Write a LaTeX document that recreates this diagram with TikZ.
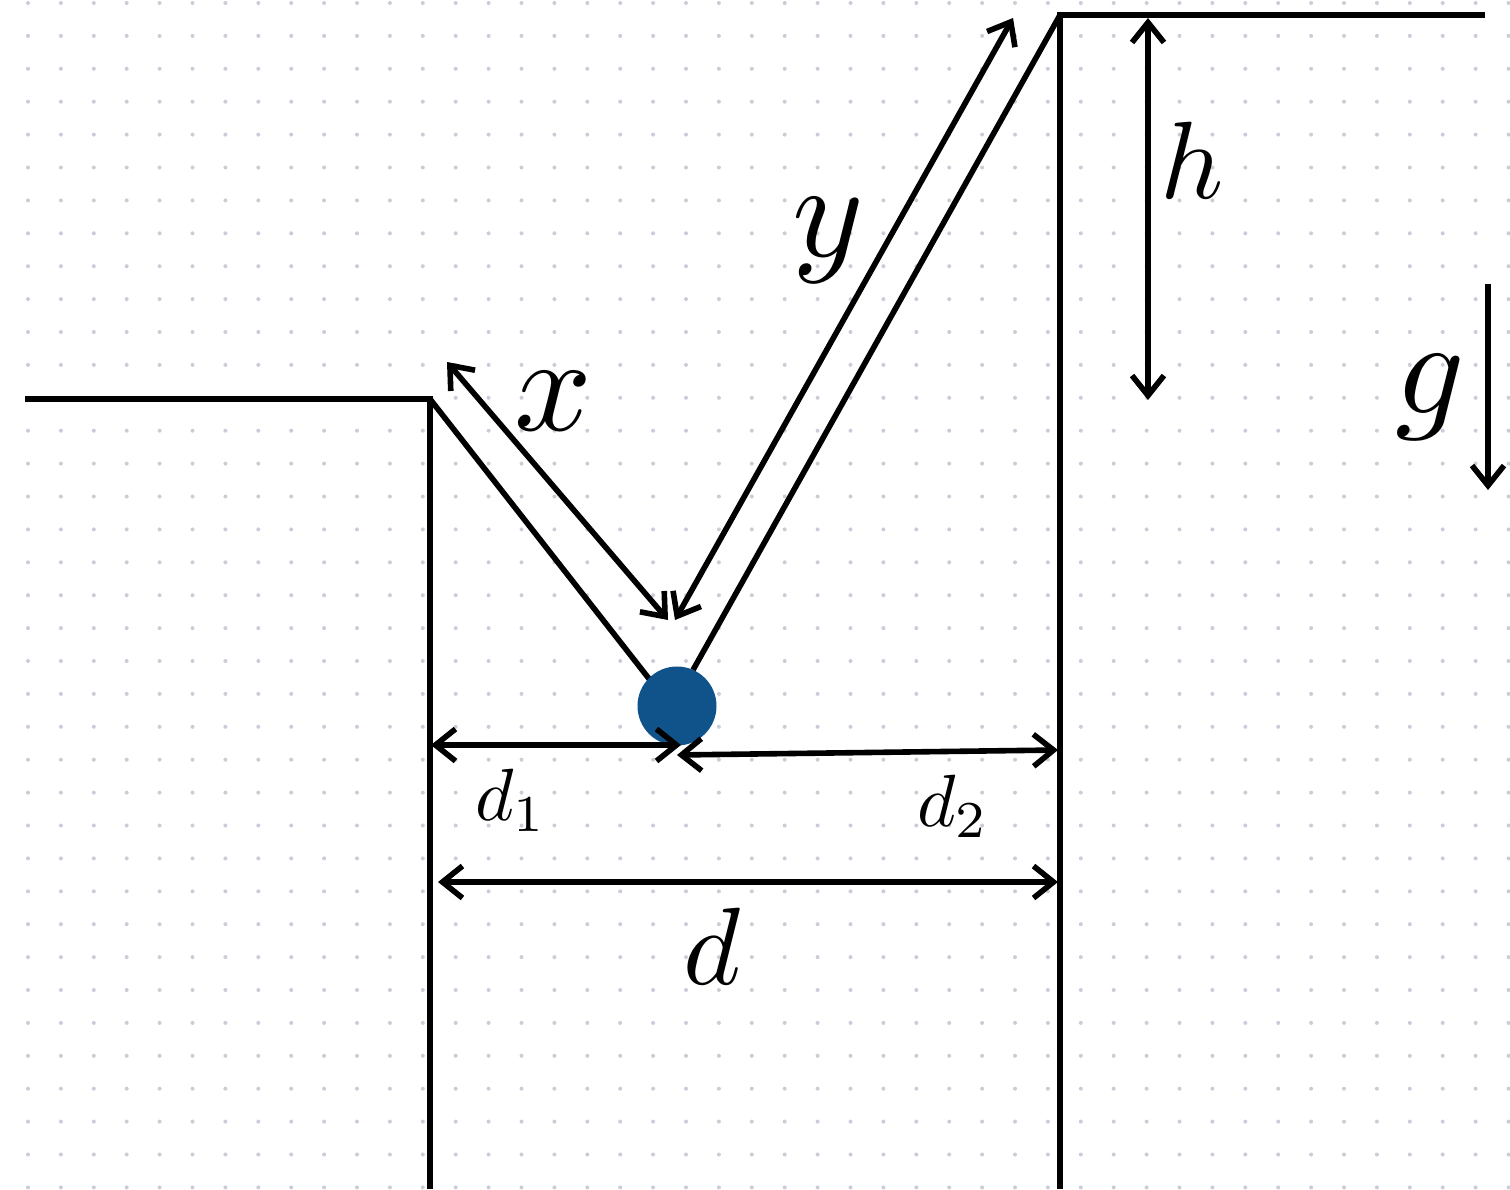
\documentclass[tikz,border=0pt]{standalone}
\usepackage{graphicx}
\usetikzlibrary{arrows.meta}
\definecolor{ballblue}{RGB}{16,82,138}
\definecolor{dotgrey}{RGB}{200,206,216}
\newcommand{\lblBig}[1]{\scalebox{6.8}{$#1$}}
\newcommand{\lblMid}[1]{\scalebox{5.5}{$#1$}}
\newcommand{\lblSmall}[1]{\scalebox{3.7}{$#1$}}
\begin{document}
\begin{tikzpicture}[x=0.5pt,y=-0.5pt,
  wall/.style={line width=2.8pt},
  dim/.style={line width=2.8pt,{Straight Barb[length=10pt,width=16pt,line width=2.8pt]}-{Straight Barb[length=10pt,width=16pt,line width=2.8pt]}},
  onehead/.style={line width=2.8pt,-{Straight Barb[length=10pt,width=16pt,line width=2.8pt]}},
  lbl/.style={inner sep=0pt}]
\useasboundingbox[fill=white] (0,0) rectangle (1510,1189);
% dot grid
\foreach \i in {0,...,45}{
  \foreach \j in {0,...,36}{
    \fill[dotgrey] (28+32.9*\i,3+32.9*\j) circle[radius=1pt];
  }
}
% coordinates
\coordinate (LG) at (25,399);
\coordinate (LE) at (430,399);
\coordinate (LB) at (430,1189);
\coordinate (RE) at (1060,15);
\coordinate (RG) at (1485,15);
\coordinate (RB) at (1060,1189);
\coordinate (BL) at (650,680);
\coordinate (BR) at (693,670);
% ground and walls
\draw[wall] (LG) -- (LE) -- (LB);
\draw[wall] (RG) -- (RE) -- (RB);
% strings
\draw[wall] (LE) -- (BL);
\draw[wall] (RE) -- (BR);
% ball
\node[circle,fill=ballblue,minimum size=79*0.5pt,inner sep=0pt] (ball) at (677,706) {};
% dimension arrows
\coordinate (xa) at (447,362); \coordinate (xb) at (668,620);
\draw[dim] (xa) -- (xb);
\coordinate (ya) at (1013,18); \coordinate (yb) at (675,620);
\draw[dim] (ya) -- (yb);
\coordinate (ha) at (1148,18); \coordinate (hb) at (1148,400);
\draw[dim] (ha) -- (hb);
\coordinate (ga) at (1488,284); \coordinate (gb) at (1488,490);
\draw[onehead] (ga) -- (gb);
\coordinate (d1a) at (431,745); \coordinate (d1b) at (681,745);
\draw[dim] (d1a) -- (d1b);
\coordinate (d2a) at (677,755); \coordinate (d2b) at (1058,750);
\draw[dim] (d2a) -- (d2b);
\coordinate (da) at (438,882); \coordinate (db) at (1058,882);
\draw[dim] (da) -- (db);
% labels
\node[lbl] (lx) at (553,401) {\lblBig{x}};
\node[lbl] (ly) at (828,240) {\lblBig{y}};
\node[lbl] (lh) at (1192,160) {\lblMid{h}};
\node[lbl] (lg) at (1430,397) {\lblBig{g}};
\node[lbl] (ld1) at (511,800) {\lblSmall{d_1}};
\node[lbl] (ld2) at (953,806) {\lblSmall{d_2}};
\node[lbl] (ld) at (712,946) {\lblMid{d}};
\end{tikzpicture}
\end{document}
